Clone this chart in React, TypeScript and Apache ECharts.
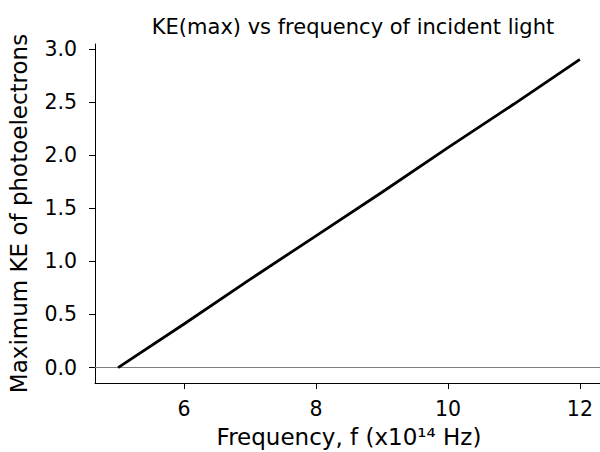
import React, { useEffect, useRef } from "react";
import * as echarts from "echarts";

const frequency = [5, 6, 7, 8, 9, 10, 11, 12];
const keMax = [0, 0.41, 0.83, 1.24, 1.65, 2.07, 2.48, 2.9];
const yTicks = [0, 0.5, 1, 1.5, 2, 2.5, 3];
const xTicks = [6, 8, 10, 12];

const FONT = "DejaVu Sans";

export default function App() {
  const ref = useRef<HTMLDivElement>(null);
  useEffect(() => {
    if (!ref.current) return;
    const chart = echarts.init(ref.current, undefined, { renderer: "svg" });
    chart.setOption({
      animation: false,
      backgroundColor: "#ffffff",
      title: {
        text: "KE(max) vs frequency of incident light",
        left: 348,
        textAlign: "center",
        top: 11,
        textStyle: { fontFamily: FONT, fontSize: 21, fontWeight: "normal", color: "#000" },
      },
      grid: { left: 95, right: -3, top: 44, bottom: 69, containLabel: false, outerBoundsMode: "none" },
      xAxis: {
        type: "value",
        min: 4.65,
        max: 12.35,
        interval: 2,
        name: "Frequency, f (x10¹⁴ Hz)",
        nameLocation: "middle",
        nameGap: 42,
        nameTextStyle: { fontFamily: FONT, fontSize: 23, color: "#000" },
        axisLine: { show: true, onZero: false, lineStyle: { color: "#000", width: 1 } },
        axisTick: { show: true, length: 6, lineStyle: { color: "#000" }, customValues: xTicks },
        axisLabel: {
          fontFamily: FONT,
          fontSize: 20.5,
          color: "#000",
          margin: 15,
          customValues: xTicks,
          formatter: (v: number) => String(v),
        },
        splitLine: { show: false },
      },
      yAxis: {
        type: "value",
        min: -0.145,
        max: 3.045,
        name: "Maximum KE of photoelectrons",
        nameLocation: "middle",
        nameGap: 65,
        nameTextStyle: { fontFamily: FONT, fontSize: 23, color: "#000" },
        axisLine: { show: true, onZero: false, lineStyle: { color: "#000", width: 1 } },
        axisTick: { show: true, length: 6, lineStyle: { color: "#000" }, customValues: yTicks },
        axisLabel: {
          fontFamily: FONT,
          fontSize: 20.5,
          color: "#000",
          margin: 18,
          customValues: yTicks,
          formatter: (v: number) => v.toFixed(1),
        },
        splitLine: { show: false },
      },
      series: [
        {
          type: "line",
          data: frequency.map((f, i) => [f, keMax[i]]),
          symbol: "none",
          lineStyle: { color: "#000", width: 2.8 },
          z: 3,
          markLine: {
            silent: true,
            symbol: "none",
            label: { show: false },
            lineStyle: { color: "#808080", width: 1, type: "solid" },
            data: [{ yAxis: 0 }],
            z: 2,
          },
        },
      ],
    });
    return () => chart.dispose();
  }, []);
  return <div ref={ref} style={{ width: 600, height: 452, position: "absolute", left: 0, top: 0 }} />;
}
